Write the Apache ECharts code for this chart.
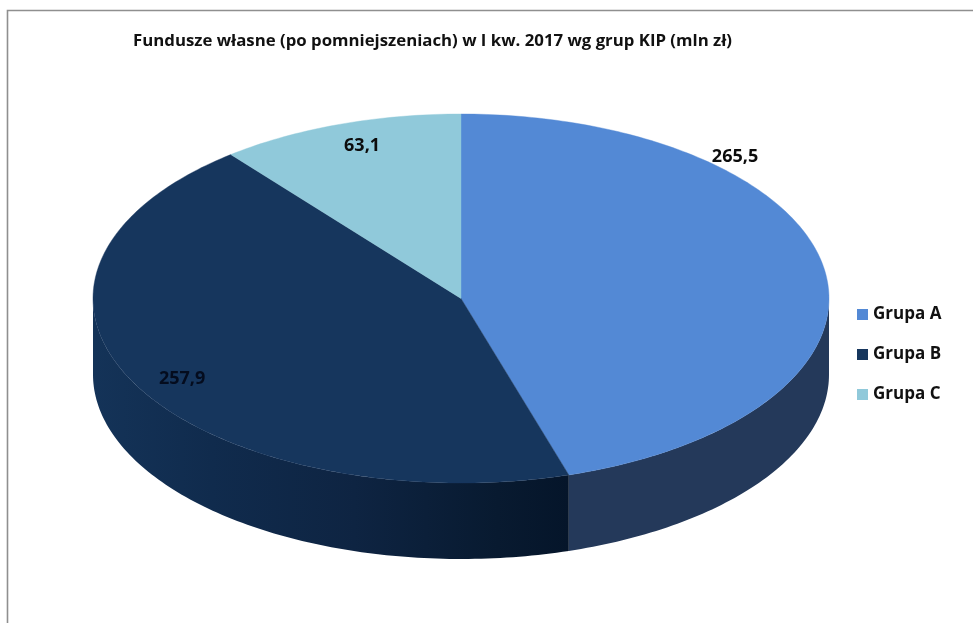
<!DOCTYPE html>
<html><head><meta charset="utf-8">
<style>html,body{margin:0;padding:0;background:#fff}#c{width:973px;height:623px}</style>
<script src="https://cdn.jsdelivr.net/npm/echarts@6/dist/echarts.min.js"></script>
</head><body><div id="c"></div>
<script>
const titleText = 'Fundusze własne (po pomniejszeniach) w I kw. 2017 wg grup KIP (mln zł)';
const categories = ['Grupa A', 'Grupa B', 'Grupa C'];
const values = [265.5, 257.9, 63.1];
const valueLabels = ['265,5', '257,9', '63,1'];

const topColors = ['#5389d5', '#16365d', '#90c9da'];
const sideFills = [
  '#24395a',
  {type:'linear',x:1,y:0,x2:0,y2:0,colorStops:[
    {offset:0,color:'#05152a'},{offset:0.15,color:'#081a30'},{offset:0.45,color:'#0e2442'},
    {offset:0.75,color:'#102b4d'},{offset:1,color:'#143358'}]},
  '#143358'
];
const cx = 461, cy = 298.5, rx = 368, ry = 184.5, depth = 76;
// label anchor as [angle in degrees from 12 o'clock, fraction of radius]
const labelAnchors = [[44.1, 1.07], [240, 0.875], [-18, 0.87]];

const total = values.reduce((a, b) => a + b, 0);
const pt = (deg, r, dy) => {
  const t = deg * Math.PI / 180;
  return [cx + rx * r * Math.sin(t), cy - ry * r * Math.cos(t) + (dy || 0)];
};
const arc = (a, b, dy) => {
  const n = Math.max(2, Math.ceil(Math.abs(b - a)));
  const out = [];
  for (let i = 0; i <= n; i++) out.push(pt(a + (b - a) * i / n, 1, dy));
  return out;
};

function render(idx) {
  return function (params, api) {
    const before = values.slice(0, idx).reduce((a, b) => a + b, 0);
    const a0 = before / total * 360;
    const a1 = a0 + api.value(0) / total * 360;
    const children = [];
    const s0 = Math.max(a0, 90), s1 = Math.min(a1, 270);
    if (s1 > s0) {
      const topArc = arc(s0, s1, 0);
      const botArc = arc(s0, s1, depth).reverse();
      children.push({
        type: 'polygon', z2: 1,
        shape: {points: topArc.concat(botArc)},
        style: {fill: sideFills[idx], stroke: null}
      });
    }
    children.push({
      type: 'polygon', z2: 2,
      shape: {points: [[cx, cy]].concat(arc(a0, a1, 0))},
      style: {fill: topColors[idx], stroke: topColors[idx], lineWidth: 0.4}
    });
    const lp = pt(labelAnchors[idx][0], labelAnchors[idx][1]);
    children.push({
      type: 'text', z2: 5, x: lp[0], y: lp[1],
      style: {
        text: valueLabels[idx], align: 'center', verticalAlign: 'middle',
        font: 'bold 18px "Open Sans"', fill: idx === 1 ? '#040c1e' : '#0c0c0c'
      }
    });
    return {type: 'group', children};
  };
}

const chart = echarts.init(document.getElementById('c'), null, {renderer: 'canvas'});
chart.setOption({
  animation: false,
  backgroundColor: '#ffffff',
  title: {
    text: titleText, left: 128, top: 28,
    textStyle: {fontFamily: 'Open Sans', fontWeight: 'bold', fontSize: 16.8, color: '#111111'}
  },
  legend: {
    orient: 'vertical', left: 852, top: 301, itemWidth: 11, itemHeight: 11, itemGap: 23, icon: 'rect',
    textStyle: {fontFamily: 'Open Sans', fontWeight: 'bold', fontSize: 17, color: '#111111'},
    data: categories
  },
  graphic: [{
    type: 'rect', silent: true, z: -1,
    shape: {x: 7.5, y: 10.5, width: 1100, height: 800},
    style: {fill: 'none', stroke: '#8f8f8f', lineWidth: 1.6}
  }],
  series: categories.map((name, i) => ({
    type: 'custom', name, coordinateSystem: 'none',
    itemStyle: {color: topColors[i]},
    renderItem: render(i),
    data: [[values[i]]]
  }))
});
</script></body></html>
